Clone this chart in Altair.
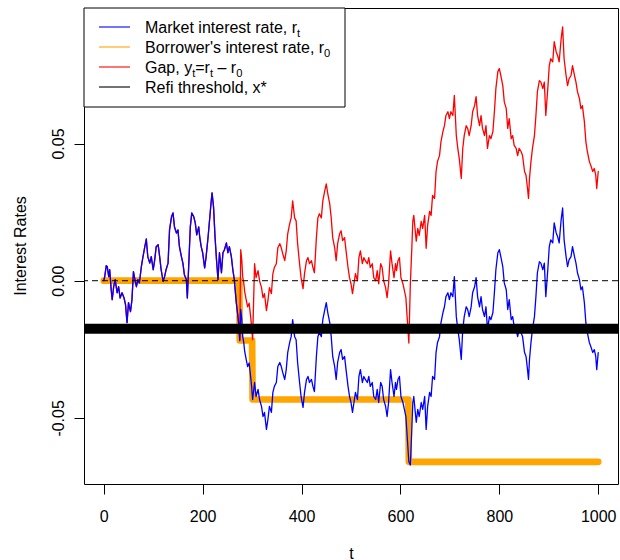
import altair as alt
import pandas as pd

# ---- data -------------------------------------------------------------------
# market interest rate r_t, read at these time steps
t_obs = [0, 2, 5, 7, 10, 12, 15, 17, 20, 23, 27, 30, 33, 37, 41, 44, 47, 50, 54, 57,
         60, 63, 66, 69, 72, 76, 79, 83, 86, 89, 93, 96, 100, 103, 106, 110, 113, 116,
         120, 123, 126, 130, 133, 137, 140, 143, 147, 150, 153, 157, 160, 163, 167, 169,
         172, 175, 178, 182, 185, 188, 192, 194, 197, 200, 204, 207, 211, 214, 217, 219,
         222, 225, 228, 231, 234, 238, 241, 244, 248, 251, 254, 258, 261, 264, 268, 271,
         273, 275, 277, 279, 281, 283, 285, 288, 291, 294, 297, 299, 301, 305, 308, 312,
         315, 319, 322, 325, 329, 332, 335, 339, 342, 345, 349, 352, 356, 359, 362, 366,
         369, 372, 376, 379, 382, 386, 389, 392, 396, 399, 403, 406, 410, 413, 416, 420,
         423, 426, 430, 433, 436, 440, 443, 447, 450, 453, 457, 460, 463, 467, 470, 473,
         477, 480, 483, 487, 490, 494, 497, 500, 503, 506, 509, 513, 516, 519, 523, 526,
         529, 533, 536, 539, 543, 546, 550, 553, 556, 560, 563, 566, 570, 573, 576, 580,
         583, 587, 590, 592, 595, 598, 601, 605, 608, 611, 614, 617, 620, 623, 625, 627,
         630, 632, 635, 638, 642, 645, 649, 652, 655, 659, 662, 665, 669, 672, 675, 679,
         682, 686, 689, 692, 696, 699, 702, 706, 709, 713, 716, 719, 723, 726, 729, 733,
         736, 739, 743, 746, 750, 753, 756, 760, 763, 766, 770, 773, 776, 780, 783, 787,
         790, 793, 797, 800, 803, 807, 810, 814, 817, 820, 824, 827, 830, 834, 837, 840,
         844, 847, 851, 854, 857, 859, 861, 864, 867, 871, 874, 877, 881, 884, 888, 891,
         894, 898, 901, 904, 908, 911, 915, 918, 921, 925, 928, 931, 935, 938, 941, 945,
         948, 952, 955, 958, 962, 965, 968, 972, 975, 978, 982, 985, 989, 992, 995, 997,
         1000]
market_rate = [
    0.0000, 0.0016, 0.0055, 0.0051, 0.0015, 0.0040, -0.0033, -0.0069, -0.0022, 0.0004,
    -0.0044, -0.0022, -0.0063, -0.0044, -0.0063, -0.0087, -0.0153, -0.0080, -0.0113, -0.0069,
    0.0033, 0.0004, -0.0022, 0.0004, -0.0008, 0.0051, 0.0084, 0.0124, 0.0152, 0.0088,
    0.0064, 0.0088, 0.0040, 0.0076, 0.0124, 0.0131, 0.0088, 0.0040, -0.0002, 0.0015,
    0.0040, 0.0064, 0.0185, 0.0233, 0.0247, 0.0196, 0.0174, 0.0185, 0.0124, 0.0088,
    0.0064, 0.0022, 0.0004, -0.0063, 0.0064, 0.0196, 0.0247, 0.0233, 0.0211, 0.0167,
    0.0196, 0.0160, 0.0124, 0.0102, 0.0047, 0.0088, 0.0160, 0.0222, 0.0284, 0.0320,
    0.0269, 0.0160, 0.0076, 0.0004, 0.0102, 0.0029, 0.0102, 0.0113, 0.0138, 0.0102,
    0.0124, 0.0088, 0.0040, 0.0004, -0.0080, -0.0125, -0.0160, -0.0218, -0.0105, -0.0140,
    -0.0204, -0.0225, -0.0258, -0.0287, -0.0313, -0.0300, -0.0349, -0.0385, -0.0433, -0.0371,
    -0.0422, -0.0396, -0.0433, -0.0458, -0.0495, -0.0480, -0.0542, -0.0505, -0.0458, -0.0480,
    -0.0407, -0.0385, -0.0371, -0.0313, -0.0298, -0.0313, -0.0335, -0.0360, -0.0324, -0.0262,
    -0.0225, -0.0204, -0.0142, -0.0204, -0.0215, -0.0298, -0.0371, -0.0422, -0.0462, -0.0407,
    -0.0360, -0.0349, -0.0371, -0.0360, -0.0385, -0.0404, -0.0276, -0.0204, -0.0189, -0.0204,
    -0.0142, -0.0105, -0.0080, -0.0116, -0.0153, -0.0204, -0.0276, -0.0313, -0.0360, -0.0298,
    -0.0262, -0.0251, -0.0287, -0.0276, -0.0324, -0.0385, -0.0422, -0.0444, -0.0480, -0.0444,
    -0.0407, -0.0433, -0.0349, -0.0324, -0.0371, -0.0349, -0.0360, -0.0371, -0.0349, -0.0385,
    -0.0371, -0.0422, -0.0433, -0.0396, -0.0444, -0.0371, -0.0385, -0.0433, -0.0458, -0.0495,
    -0.0444, -0.0324, -0.0371, -0.0422, -0.0371, -0.0396, -0.0360, -0.0349, -0.0422, -0.0444,
    -0.0469, -0.0495, -0.0578, -0.0660, -0.0672, -0.0542, -0.0444, -0.0422, -0.0480, -0.0516,
    -0.0469, -0.0495, -0.0444, -0.0469, -0.0422, -0.0542, -0.0458, -0.0407, -0.0422, -0.0349,
    -0.0360, -0.0262, -0.0225, -0.0204, -0.0153, -0.0116, -0.0095, -0.0058, -0.0044, -0.0069,
    -0.0044, -0.0058, 0.0015, -0.0131, -0.0178, -0.0215, -0.0287, -0.0178, -0.0131, -0.0095,
    -0.0105, -0.0131, -0.0095, -0.0044, -0.0022, 0.0011, -0.0058, -0.0095, -0.0058, -0.0105,
    -0.0131, -0.0095, -0.0178, -0.0131, -0.0142, -0.0116, -0.0044, 0.0040, 0.0102, 0.0113,
    0.0088, 0.0051, -0.0008, -0.0033, -0.0105, -0.0069, -0.0142, -0.0131, -0.0167, -0.0178,
    -0.0204, -0.0178, -0.0189, -0.0204, -0.0262, -0.0276, -0.0324, -0.0360, -0.0287, -0.0225,
    -0.0178, -0.0131, -0.0058, 0.0029, 0.0069, 0.0064, 0.0040, 0.0064, -0.0058, 0.0040,
    0.0124, 0.0149, 0.0138, 0.0211, 0.0174, 0.0160, 0.0138, 0.0222, 0.0265, 0.0149,
    0.0088, 0.0051, 0.0076, 0.0088, 0.0124, 0.0088, 0.0064, 0.0029, 0.0004, -0.0033,
    -0.0022, -0.0080, -0.0153, -0.0189, -0.0225, -0.0240, -0.0262, -0.0251, -0.0276, -0.0324,
    -0.0262]

# refinancing dates and the borrower's new rate r_0 from each date on
refi_t = [0, 275, 301, 617]
refi_rate = [0.0000, -0.0218, -0.0433, -0.0660]
refi_threshold = -0.0175

x_ticks = [0, 200, 400, 600, 800, 1000]
y_ticks = [-0.05, 0.0, 0.05]

legend_colors = ["#0000FF", "#FFA500", "#FF0000", "#000000"]
legend_labels = [
    [("Market interest rate, r", False), ("t", True)],
    [("Borrower's interest rate, r", False), ("0", True)],
    [("Gap, y", False), ("t", True), ("=r", False), ("t", True), (" \u2013 r", False), ("0", True)],
    [("Refi threshold, x*", False)],
]

# ---- series tables ---------------------------------------------------------
market = pd.DataFrame({"t": t_obs, "rate": market_rate})

b_t, b_r = [], []
for i, (start, level) in enumerate(zip(refi_t, refi_rate)):
    end = refi_t[i + 1] - 1 if i + 1 < len(refi_t) else t_obs[-1]
    b_t += [start, end]
    b_r += [level, level]
borrower = pd.DataFrame({"t": b_t, "rate": b_r})


def held_rate(t):
    """Borrower's rate carried into period t (before any refinancing at t)."""
    level = refi_rate[0]
    for rt, rr in zip(refi_t, refi_rate):
        if rt < t:
            level = rr
    return level


gap = pd.DataFrame({"t": t_obs,
                    "rate": [r - held_rate(t) for t, r in zip(t_obs, market_rate)]})

# ---- scales / axes ---------------------------------------------------------
FONT = "Liberation Sans"
W, H = 534, 476

x_scale = alt.Scale(domain=[-40, 1040], nice=False, zero=False)
y_scale = alt.Scale(domain=[-0.0741, 0.0994], nice=False, zero=False)

x_axis = alt.Axis(values=x_ticks, format="d", title="t", grid=False, domain=False,
                  tickSize=10, tickColor="black", tickWidth=1,
                  labelFont=FONT, labelFontSize=16, labelColor="black",
                  labelBaseline="alphabetic", labelPadding=27, labelFlush=False,
                  titleFont=FONT, titleFontSize=16, titleFontWeight="normal",
                  titleColor="black", titleBaseline="alphabetic", titleY=74)
y_axis = alt.Axis(values=y_ticks, title="Interest Rates", grid=False, domain=False,
                  labelExpr="replace(format(datum.value, '.2f'), '\u2212', '-')",
                  tickSize=10, tickColor="black", tickWidth=1,
                  labelFont=FONT, labelFontSize=16, labelColor="black",
                  labelAngle=-90, labelAlign="center", labelBaseline="alphabetic",
                  labelPadding=11, labelFlush=False,
                  titleFont=FONT, titleFontSize=16, titleFontWeight="normal",
                  titleColor="black", titleAngle=-90, titleAlign="center",
                  titleBaseline="alphabetic", titleX=-59, titleY=237.5)


def series(df, color, width, **kw):
    return alt.Chart(df).mark_line(color=color, strokeWidth=width, strokeJoin="round",
                                   strokeCap="round", **kw).encode(
        x=alt.X("t:Q", scale=x_scale, axis=x_axis),
        y=alt.Y("rate:Q", scale=y_scale, axis=y_axis),
        order="t:Q",
    )


borrower_line = series(borrower, "#FFA500", 6.7)
gap_line = series(gap, "#FF0000", 1.3)
market_line = series(market, "#0000FF", 1.3)

zero_line = alt.Chart(pd.DataFrame({"v": [0.0]})).mark_rule(
    color="black", strokeWidth=1, strokeDash=[6, 4]).encode(
    y=alt.Y("v:Q", scale=y_scale, axis=y_axis))
threshold_line = alt.Chart(pd.DataFrame({"v": [refi_threshold]})).mark_rule(
    color="black", strokeWidth=10).encode(
    y=alt.Y("v:Q", scale=y_scale, axis=y_axis))

# ---- legend (drawn in plot pixels, top-left corner) ------------------------
ARIAL = {" ": 278, ",": 278, "'": 191, "*": 389, "=": 584, "\u2013": 556,
         "a": 556, "b": 556, "c": 500, "d": 556, "e": 556, "f": 278, "g": 556,
         "h": 556, "i": 222, "k": 500, "l": 222, "m": 833, "n": 556, "o": 556,
         "p": 556, "r": 333, "s": 500, "t": 278, "w": 722, "x": 500, "y": 500,
         "B": 667, "G": 778, "M": 833, "R": 722, "0": 556}


def text_width(s, size):
    return sum(ARIAL.get(c, 556) for c in s) * size / 1000.0


MAIN, SUB = 16, 11.2
row_y0, row_step = 19, 20
text_x0 = 61
pieces = []
for i, row in enumerate(legend_labels):
    x = text_x0
    base = row_y0 + i * row_step + 6
    for txt, is_sub in row:
        size = SUB if is_sub else MAIN
        lead = len(txt) - len(txt.lstrip(" "))
        x += text_width(" " * lead, size)
        body = txt.lstrip(" ")
        pieces.append({"px": x, "py": base + (3.5 if is_sub else 0), "txt": body, "fs": size})
        x += text_width(body, size)
legend_text_df = pd.DataFrame(pieces)

legend_box = alt.Chart(pd.DataFrame({"a": [0]})).mark_rect(
    fill="white", stroke="black", strokeWidth=1).encode(
    x=alt.value(0), x2=alt.value(261), y=alt.value(0), y2=alt.value(99))

legend_keys = alt.Chart(pd.DataFrame({
    "x1": [15] * 4, "x2": [46] * 4,
    "y": [row_y0 + i * row_step for i in range(4)],
    "c": legend_colors})).mark_rule(strokeWidth=1.1).encode(
    x=alt.X("x1:Q", scale=None), x2="x2:Q",
    y=alt.Y("y:Q", scale=None),
    color=alt.Color("c:N", scale=None))

legend_text = alt.Chart(legend_text_df).mark_text(
    font=FONT, align="left", baseline="alphabetic", color="black").encode(
    x=alt.X("px:Q", scale=None), y=alt.Y("py:Q", scale=None),
    text="txt:N", size=alt.Size("fs:Q", scale=None))

chart = alt.layer(
    borrower_line, gap_line, market_line, zero_line, threshold_line,
    legend_box, legend_keys, legend_text,
).properties(
    width=W, height=H,
    autosize=alt.AutoSizeParams(type="none"),
    padding={"left": 84, "top": 8, "right": 2, "bottom": 76},
    background="white",
).configure_view(stroke="black", strokeWidth=1)

chart.save("out.html", embed_options={"renderer": "svg", "actions": False})
